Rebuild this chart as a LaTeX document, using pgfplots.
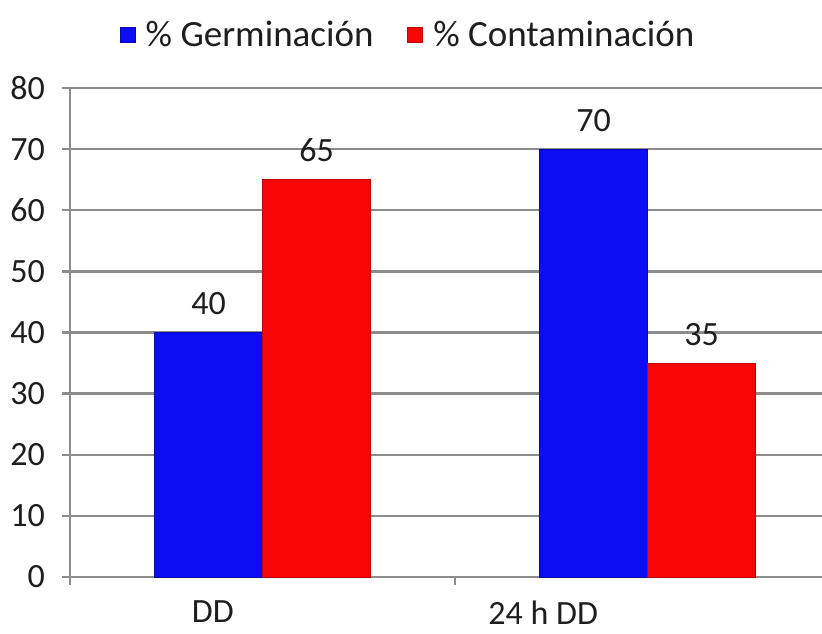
\documentclass[border=0pt]{standalone}
\usepackage{pgfplots}
\pgfplotsset{compat=1.18}
\usepackage{fontspec}
\setmainfont{Carlito}
\definecolor{barblue}{RGB}{12,12,245}
\definecolor{barred}{RGB}{250,5,5}
\definecolor{gridgray}{RGB}{140,140,140}
\definecolor{txt}{RGB}{30,30,30}
\begin{document}
\begin{tikzpicture}
\useasboundingbox (0,0) rectangle (411pt,316.5pt);
\begin{axis}[
  at={(35pt,28pt)}, anchor=south west,
  scale only axis, width=376pt, height=244.5pt,
  xmin=-0.5, xmax=1.453, ymin=0, ymax=80,
  axis x line=bottom, axis y line=left,
  axis line style={-, gridgray, line width=1.2pt},
  ytick={0,10,...,80},
  ymajorgrids, major grid style={gridgray, line width=1.2pt},
  tick align=outside,
  tick style={gridgray, line width=1.2pt},
  major tick length=4pt,
  xtick={-0.5,0.5}, xticklabels={},
  extra x ticks={-0.129,0.729},
  extra x tick labels={DD, 24 h DD},
  extra x tick style={tick style={draw=none}, grid=none, major tick length=0pt,
    xticklabel style={yshift=-8.5pt}},
  /pgf/number format/assume math mode=true,
  tick label style={font=\fontsize{17}{20}\selectfont, text=txt},
  yticklabel style={xshift=-5pt},
  ybar=0pt, bar width=54pt,
  nodes near coords,
  every node near coord/.append style={font=\fontsize{17}{20}\selectfont, text=txt, yshift=5.2pt},
  legend style={at={(0.455,1.108)}, anchor=center, draw=none, fill=none,
    legend columns=2, font=\fontsize{18.5}{22}\selectfont, text=txt,
    nodes={inner xsep=5pt},
    /tikz/every even column/.append style={column sep=12pt}},
  legend image code/.code={\fill[#1] (0pt,-3.75pt) rectangle (7.5pt,3.75pt);},
]
\addplot[fill=barblue, draw=barblue!70!black, line width=0.4pt] coordinates {(0,40) (1,70)};
\addplot[fill=barred, draw=barred!75!black, line width=0.4pt] coordinates {(0,65) (1,35)};
\legend{\% Germinación, \% Contaminación}
\end{axis}
\end{tikzpicture}
\end{document}
